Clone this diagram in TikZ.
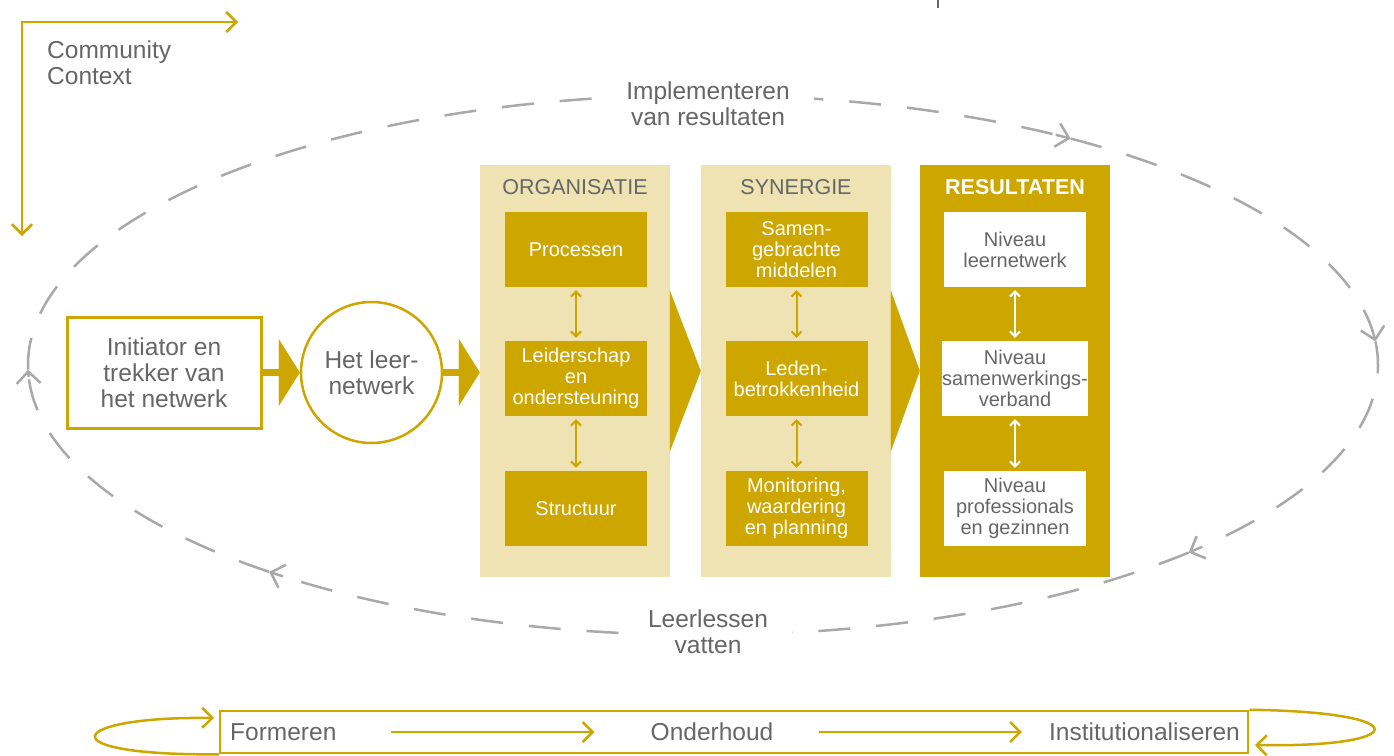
\documentclass[tikz,border=0pt]{standalone}
\usepackage{fontspec}
\setmainfont{Liberation Sans}
\usepackage{tikz}
\usetikzlibrary{arrows.meta}
\usetikzlibrary{calc}

\definecolor{gold}{HTML}{CDA700}
\definecolor{lightgold}{HTML}{F0E3B3}
\definecolor{txtgray}{HTML}{666666}
\definecolor{dashgray}{HTML}{ABA8A8}

\newcommand{\bigtxt}{\fontsize{24.5}{26}\selectfont}
\newcommand{\boxtxt}{\fontsize{20}{21}\selectfont}
\newcommand{\titletxt}{\fontsize{21.5}{24}\selectfont}

\begin{document}
\begin{tikzpicture}[x=1pt,y=-1pt,
        plaintext/.style={text=txtgray,font=\bigtxt,align=center,inner sep=2pt},
        panel/.style={minimum width=190pt,minimum height=412pt,inner sep=0pt},
        goldbox/.style={fill=gold,text=white,font=\boxtxt,align=center,minimum width=142pt,minimum height=75pt,inner sep=0pt},
        whitebox/.style={fill=white,text=txtgray,font=\boxtxt,align=center,minimum width=142pt,minimum height=75pt,inner sep=0pt},
        updown/.style={line width=2pt,{Straight Barb[length=5pt,width=10pt]}-{Straight Barb[length=5pt,width=10pt]},shorten <=3pt,shorten >=3pt},
        loopline/.style={dashgray,line width=2.5pt,dash pattern=on 32pt off 26pt},
        looptip/.style={dashgray,line width=2.5pt,-{Straight Barb[length=12pt,width=24pt]}},
        goldarrow/.style={gold,line width=2.5pt,-{Straight Barb[length=10pt,width=20pt]}},
        bigtip/.style={gold,line width=7pt,-{Triangle[length=21pt,width=67pt,line width=0.1pt]}}
    ]
        \useasboundingbox (0,0) rectangle (1394,755);

        % community context
        \coordinate (cc) at (22,22);
        \coordinate (ccright) at (238,22);
        \coordinate (ccdown) at (22,236);
        \draw[gold,line width=2.5pt,{Straight Barb[length=10pt,width=20pt]}-{Straight Barb[length=10pt,width=20pt]}] (ccright) -- (cc) -- (ccdown);
        \node[plaintext,align=left,anchor=west] (ctx) at (45,63) {Community\\Context};

        \coordinate (tick) at (938,0);
        \coordinate (tickend) at (938,8);
        \draw[txtgray,line width=1.5pt] (tick) -- (tickend);

        % dashed cycle, solid tip at the end of each piece
        \coordinate (mid) at (703,365);
        \foreach \a/\b in {179/303, 303/355, 355/404, 404/490, 490/539} {
            \draw[loopline] ($(mid)+(\a:675 and 270)$) arc[start angle=\a,end angle=\b-1.5,x radius=675,y radius=270];
            \draw[looptip] ($(mid)+(\b-1.5:675 and 270)$) arc[start angle=\b-1.5,end angle=\b,x radius=675,y radius=270];
        }
        \node[plaintext,fill=white,inner xsep=24pt,inner ysep=6pt] (impl) at (708,104) {Implementeren\\van resultaten};
        \node[plaintext,fill=white,inner xsep=24pt,inner ysep=6pt] (lessen) at (708,632) {Leerlessen\\vatten};

        % left part
        \node[plaintext,draw=gold,line width=3pt,fill=white,minimum width=194pt,minimum height=111pt] (init) at (164,372.5) {Initiator en\\trekker van\\het netwerk};
        \node[plaintext,circle,draw=gold,line width=2.5pt,fill=white,minimum size=141pt] (leer) at (371.5,372.5) {Het leer-\\netwerk};

        % panels
        \node[panel,fill=lightgold] (org) at (575,371) {};
        \node[panel,fill=lightgold] (syn) at (796,371) {};
        \node[panel,fill=gold] (res) at (1015,371) {};
        \node[plaintext,font=\titletxt] (orgtitle) at (575,187) {ORGANISATIE};
        \node[plaintext,font=\titletxt] (syntitle) at (796,187) {SYNERGIE};
        \node[plaintext,font=\titletxt\bfseries,text=white] (restitle) at (1015,187) {RESULTATEN};

        \draw[bigtip] (init) -- (leer);
        \draw[bigtip] (leer.east) -- (leer.east -| org.west);
        \draw[gold,line width=0.1pt,-{Triangle[length=31pt,width=161pt]}] (org.east) -- (syn.west);
        \draw[gold,line width=0.1pt,-{Triangle[length=29pt,width=161pt]}] (syn.east) -- (res.west);

        % organisatie
        \node[goldbox] (proc) at (576,249.5) {Processen};
        \node[goldbox] (leid) at (576,378.5) {Leiderschap\\en\\ondersteuning};
        \node[goldbox] (struc) at (576,508.5) {Structuur};
        \draw[updown,gold] (proc) -- (leid);
        \draw[updown,gold] (leid) -- (struc);

        % synergie
        \node[goldbox] (samen) at (796.5,249.5) {Samen-\\gebrachte\\middelen};
        \node[goldbox] (leden) at (796.5,378.5) {Leden-\\betrokkenheid};
        \node[goldbox] (monit) at (796.5,508.5) {Monitoring,\\waardering\\en planning};
        \draw[updown,gold] (samen) -- (leden);
        \draw[updown,gold] (leden) -- (monit);

        % resultaten
        \node[whitebox] (niv1) at (1015,249.5) {Niveau\\leernetwerk};
        \node[whitebox] (niv2) at (1015,378.5) {Niveau\\samenwerkings-\\verband};
        \node[whitebox] (niv3) at (1015,508.5) {Niveau\\professionals\\en gezinnen};
        \draw[updown,white] (niv1) -- (niv2);
        \draw[updown,white] (niv2) -- (niv3);

        % bottom line
        \node[draw=gold,line width=2.5pt,minimum width=1028pt,minimum height=42pt,inner sep=0pt] (bar) at (734,732) {};
        \node[plaintext,anchor=west] (form) at (228,732) {Formeren};
        \node[plaintext] (ond) at (712,732) {Onderhoud};
        \node[plaintext,anchor=east] (inst) at (1242,732) {Institutionaliseren};
        \draw[goldarrow,shorten <=52pt,shorten >=54pt] (form) -- (ond);
        \draw[goldarrow,shorten <=43pt,shorten >=25pt] (ond) -- (inst);

        \coordinate (loopin) at (214,718);
        \coordinate (loopout) at (1255,745);
        \draw[goldarrow] (bar.south west) .. controls (45,756) and (65,716) .. (loopin);
        \draw[goldarrow] (bar.north east) .. controls (1420,712) and (1410,748) .. (loopout);
    \end{tikzpicture}
\end{document}
